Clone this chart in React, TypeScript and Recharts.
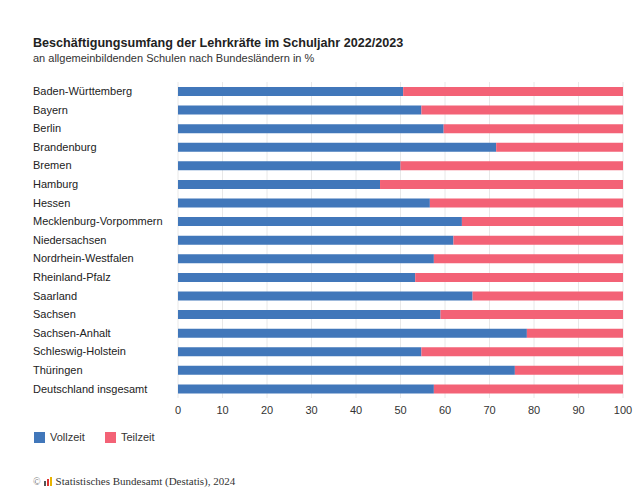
import React from "react";
import { Bar, BarChart, CartesianGrid, XAxis, YAxis } from "recharts";

const laender = [
  "Baden-Württemberg",
  "Bayern",
  "Berlin",
  "Brandenburg",
  "Bremen",
  "Hamburg",
  "Hessen",
  "Mecklenburg-Vorpommern",
  "Niedersachsen",
  "Nordrhein-Westfalen",
  "Rheinland-Pfalz",
  "Saarland",
  "Sachsen",
  "Sachsen-Anhalt",
  "Schleswig-Holstein",
  "Thüringen",
  "Deutschland insgesamt",
];

const vollzeit = [50.6, 54.7, 59.7, 71.5, 50.0, 45.4, 56.6, 63.8, 61.9, 57.5, 53.3, 66.2, 59.0, 78.4, 54.7, 75.7, 57.5];
const teilzeit = [49.4, 45.3, 40.3, 28.5, 50.0, 54.6, 43.4, 36.2, 38.1, 42.5, 46.7, 33.8, 41.0, 21.6, 45.3, 24.3, 42.5];

const xTicks = [0, 10, 20, 30, 40, 50, 60, 70, 80, 90, 100];

const BLUE = "#4177ba";
const RED = "#f36276";
const FONT = "Arial, 'Liberation Sans', sans-serif";

const data = laender.map((land, i) => ({ land, vollzeit: vollzeit[i], teilzeit: teilzeit[i] }));

function LandTick(props: any) {
  const { y, payload } = props;
  return (
    <text x={33} y={y} dy="0.35em" textAnchor="start" fontSize={11} fill="#222" fontFamily={FONT}>
      {payload.value}
    </text>
  );
}

function LegendItem({ color, label, x }: { color: string; label: string; x: number }) {
  return (
    <div style={{ position: "absolute", left: x, top: 431, height: 12, display: "flex", alignItems: "center" }}>
      <span style={{ width: 11, height: 11, background: color, display: "inline-block", marginRight: 5 }} />
      <span style={{ fontSize: 11, color: "#333", lineHeight: "12px" }}>{label}</span>
    </div>
  );
}

export default function App() {
  return (
    <div
      style={{
        position: "absolute",
        left: 0,
        top: 0,
        width: 636,
        height: 497,
        background: "#fff",
        fontFamily: FONT,
      }}
    >
      <div
        style={{
          position: "absolute",
          left: 33,
          top: 35,
          fontSize: 12.6,
          lineHeight: "16px",
          fontWeight: "bold",
          color: "#222",
          whiteSpace: "nowrap",
        }}
      >
        Beschäftigungsumfang der Lehrkräfte im Schuljahr 2022/2023
      </div>
      <div
        style={{
          position: "absolute",
          left: 33,
          top: 51,
          fontSize: 11,
          lineHeight: "14px",
          color: "#333",
          whiteSpace: "nowrap",
        }}
      >
        an allgemeinbildenden Schulen nach Bundesländern in %
      </div>
      <BarChart
        style={{ position: "absolute", left: 0, top: 0 }}
        width={636}
        height={420}
        data={data}
        layout="vertical"
        margin={{ top: 82, right: 13, left: 0, bottom: 0 }}
        barSize={9}
      >
        <CartesianGrid horizontal={false} stroke="#e8e8e8" />
        <XAxis
          type="number"
          domain={[0, 100]}
          ticks={xTicks}
          axisLine={false}
          tickLine={false}
          height={22}
          tick={{ fontSize: 11, fill: "#333", fontFamily: FONT }}
        />
        <YAxis
          type="category"
          dataKey="land"
          width={178}
          axisLine={false}
          tickLine={false}
          tick={LandTick}
          interval={0}
        />
        <Bar dataKey="vollzeit" stackId="a" fill={BLUE} isAnimationActive={false} />
        <Bar dataKey="teilzeit" stackId="a" fill={RED} isAnimationActive={false} />
      </BarChart>
      <LegendItem color={BLUE} label="Vollzeit" x={34} />
      <LegendItem color={RED} label="Teilzeit" x={105} />
      <div
        style={{
          position: "absolute",
          left: 33,
          top: 474,
          height: 14,
          fontSize: 11,
          color: "#333",
          fontFamily: "'Liberation Serif', 'Times New Roman', serif",
          display: "flex",
          alignItems: "center",
          whiteSpace: "nowrap",
        }}
      >
        <span style={{ fontSize: 10, color: "#777", marginRight: 3 }}>©</span>
        <svg width={9} height={9} style={{ marginRight: 3 }}>
          <rect x={0} y={4} width={2} height={5} fill="#555" />
          <rect x={3} y={2} width={2} height={7} fill="#d33" />
          <rect x={6} y={0} width={2} height={9} fill="#e8b400" />
        </svg>
        Statistisches Bundesamt (Destatis), 2024
      </div>
    </div>
  );
}
